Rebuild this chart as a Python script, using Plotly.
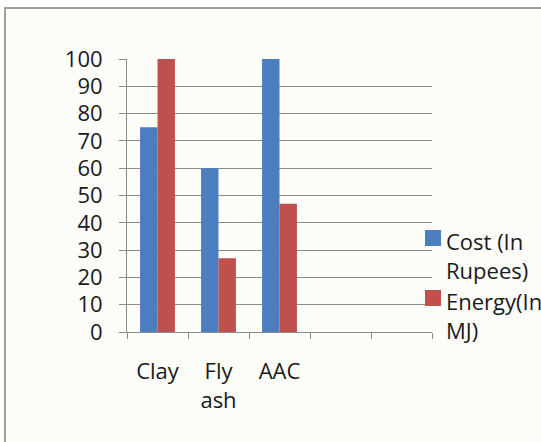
import plotly.graph_objects as go

# Chart data
categories = ["Clay", "Fly ash", "AAC"]
cost_rupees = [75, 60, 100]
energy_mj = [100, 27, 47]
series_names = ["Cost (In<br>Rupees)", "Energy(In<br>MJ)"]
series_colors = ["#4a7ebf", "#c0504d"]
y_ticks = [0, 10, 20, 30, 40, 50, 60, 70, 80, 90, 100]

W, H = 541, 442
ML, MR, MT, MB = 127, 109, 59, 110
PW, PH = W - ML - MR, H - MT - MB
FONT = "Open Sans"
GRID = "#8c8c8c"
TEXT = "#1a1a1a"


def px_x(x):
    return (x - ML) / PW


def px_y(y):
    return (H - MB - y) / PH


# multi-word category names wrap onto separate lines
labels = [c.replace(" ", "<br>") for c in categories]
slots = labels + [" ", "  "]

fig = go.Figure()
for name, vals, col in zip(series_names, [cost_rupees, energy_mj], series_colors):
    fig.add_trace(go.Bar(x=labels, y=vals, name=name, marker_color=col,
                         marker_line_width=0, showlegend=False))

fig.update_layout(
    width=W, height=H,
    margin=dict(l=ML, r=MR, t=MT, b=MB, pad=0),
    paper_bgcolor="white",
    plot_bgcolor="rgba(0,0,0,0)",
    barmode="group", bargap=1.5 / 3.5, bargroupgap=0,
    font=dict(family=FONT, size=22, color=TEXT),
)
fig.update_xaxes(
    type="category", categoryorder="array", categoryarray=slots,
    range=[-0.5, len(slots) - 0.5], tickson="boundaries",
    ticks="outside", ticklen=6, tickcolor=GRID, tickwidth=1,
    showline=True, linecolor=GRID, linewidth=1, showgrid=False,
    ticklabelstandoff=20, tickfont=dict(size=22, color=TEXT), fixedrange=True,
)
fig.update_yaxes(
    range=[0, 100], tickvals=y_ticks, ticks="outside", ticklen=7,
    tickcolor=GRID, tickwidth=1, showline=True, linecolor=GRID, linewidth=1,
    showgrid=True, gridcolor=GRID, gridwidth=1, zeroline=False,
    ticklabelstandoff=12, tickfont=dict(size=22, color=TEXT), fixedrange=True,
)

# chart frame
shapes = [dict(type="rect", xref="paper", yref="paper", layer="below",
               x0=px_x(5), x1=px_x(W + 6), y0=px_y(H + 6), y1=px_y(8),
               line=dict(color="#a0a0a0", width=2), fillcolor="#fcfcf9")]

# legend: colour squares with wrapped names
annotations = []
for i, (name, col) in enumerate(zip(series_names, series_colors)):
    top = 230 + i * 60
    shapes.append(dict(type="rect", xref="paper", yref="paper",
                       x0=px_x(425), x1=px_x(441), y0=px_y(top + 16), y1=px_y(top),
                       line=dict(width=0), fillcolor=col))
    annotations.append(dict(xref="paper", yref="paper", x=px_x(444), y=px_y(top + 25),
                            xanchor="left", yanchor="middle", align="left",
                            text=name, showarrow=False,
                            font=dict(family=FONT, size=22, color=TEXT)))

fig.update_layout(shapes=shapes, annotations=annotations)
fig.write_html("out.html")
